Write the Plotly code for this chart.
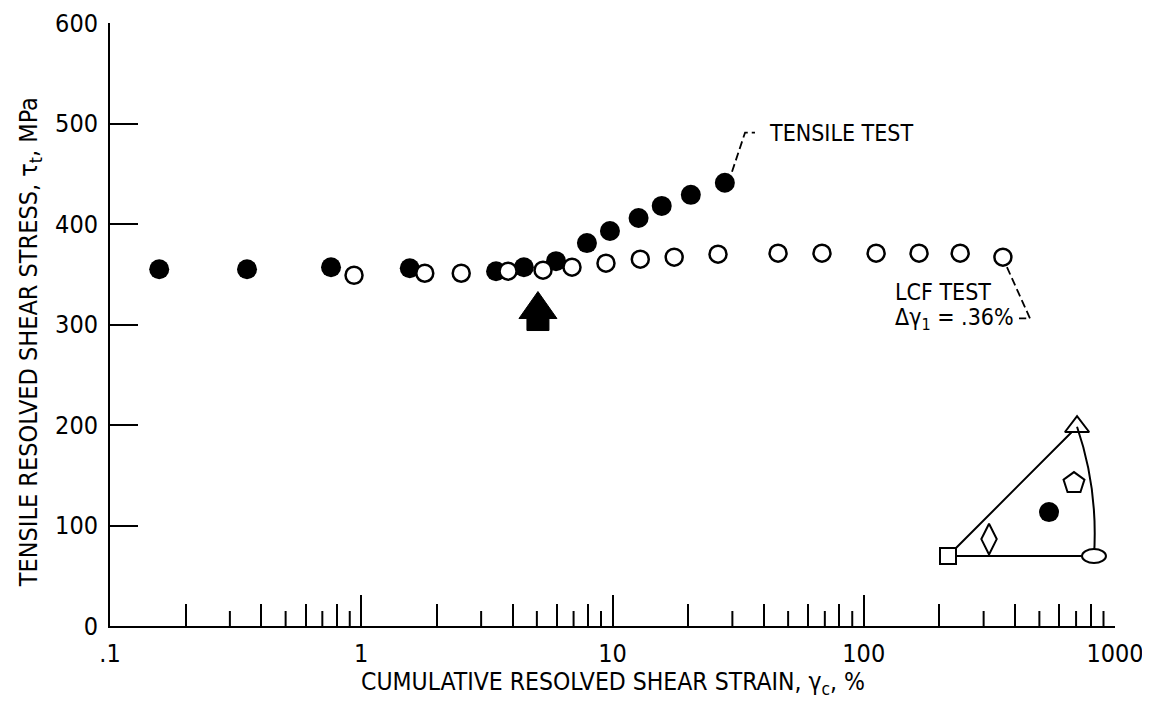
import plotly.graph_objects as go
import math

# ---------------- data ----------------
tensile_strain = [0.157, 0.351, 0.758, 1.56, 3.44, 4.44, 5.96, 7.91, 9.77, 12.7, 15.7, 20.5, 28.0]
tensile_stress = [355, 355, 357, 356, 353, 357, 363, 381, 393, 406, 418, 429, 441]

lcf_strain = [0.936, 1.79, 2.50, 3.84, 5.29, 6.90, 9.42, 12.9, 17.6, 26.3,
              45.6, 68.2, 112, 166, 242, 358]
lcf_stress = [349, 351, 351, 353, 354, 357, 361, 365, 367, 370,
              371, 371, 371, 371, 371, 367]

x_tickvals = [0.1, 1, 10, 100, 1000]
x_ticktext = [".1", "1", "10", "100", "1000"]
y_tickvals = [0, 100, 200, 300, 400, 500, 600]
decades = [0.1, 1, 10, 100]
even_minor = [2, 4, 6, 8]
odd_minor = [3, 5, 7, 9]

# marker arrow (onset) position
arrow_strain = 5.05
arrow_stress = 294

# leader lines
tensile_leader_x = [29.9, 33.7, 36.9]
tensile_leader_y = [452, 491, 491]
lcf_leader_x = [371.5, 459, 415]
lcf_leader_y = [357, 306, 306]

# annotation anchors
tensile_label = (41.2, 491)
lcf_label = (130.6, 332)
lcf_sub_label = (130.6, 305)

# inset (stereographic triangle) in local units
inset_sq = (0.0, 0.0)
inset_tri = (0.884, 0.886)
inset_ell = (1.0, 0.0)
inset_arc_ctrl = (1.03, 0.46)
inset_circle = (0.692, 0.301)
inset_house = (0.863, 0.50)
inset_diamond = (0.281, 0.116)

FONT = "Liberation Sans Narrow, DejaVu Sans Condensed, Arial Narrow, sans-serif"

fig = go.Figure()

fig.add_trace(go.Scatter(x=tensile_strain, y=tensile_stress, mode="markers",
                         marker=dict(symbol="circle", size=20, color="black",
                                     line=dict(width=0)),
                         showlegend=False))
fig.add_trace(go.Scatter(x=lcf_strain, y=lcf_stress, mode="markers",
                         marker=dict(symbol="circle", size=17, color="white",
                                     line=dict(width=2.5, color="black")),
                         showlegend=False))
fig.add_trace(go.Scatter(x=tensile_leader_x, y=tensile_leader_y, mode="lines",
                         line=dict(color="black", width=1.8, dash="8px,4px"),
                         showlegend=False))
fig.add_trace(go.Scatter(x=lcf_leader_x, y=lcf_leader_y, mode="lines",
                         line=dict(color="black", width=1.8, dash="8px,4px"),
                         showlegend=False))

# inset lines
fig.add_trace(go.Scatter(x=[inset_tri[0], inset_sq[0], inset_ell[0]],
                         y=[inset_tri[1], inset_sq[1], inset_ell[1]],
                         mode="lines", line=dict(color="black", width=2),
                         xaxis="x2", yaxis="y2", showlegend=False))
fig.add_trace(go.Scatter(x=[inset_sq[0]], y=[inset_sq[1]], mode="markers",
                         marker=dict(symbol="square", size=16, color="white",
                                     line=dict(width=2, color="black")),
                         xaxis="x2", yaxis="y2", showlegend=False))
fig.add_trace(go.Scatter(x=[inset_tri[0]], y=[inset_tri[1]], mode="markers",
                         marker=dict(symbol="triangle-up", size=21, color="white",
                                     line=dict(width=2, color="black")),
                         xaxis="x2", yaxis="y2", showlegend=False))
fig.add_trace(go.Scatter(x=[inset_house[0]], y=[inset_house[1]], mode="markers",
                         marker=dict(symbol="pentagon", size=22, color="white",
                                     line=dict(width=2, color="black")),
                         xaxis="x2", yaxis="y2", showlegend=False))
fig.add_trace(go.Scatter(x=[inset_diamond[0]], y=[inset_diamond[1]], mode="markers",
                         marker=dict(symbol="diamond-tall", size=22, color="white",
                                     line=dict(width=2, color="black")),
                         xaxis="x2", yaxis="y2", showlegend=False))
fig.add_trace(go.Scatter(x=[inset_circle[0]], y=[inset_circle[1]], mode="markers",
                         marker=dict(symbol="circle", size=20, color="black"),
                         xaxis="x2", yaxis="y2", showlegend=False))

shapes = []
# odd minor ticks (shorter) -- shape x values given as data values
for d in decades:
    for m in odd_minor:
        shapes.append(dict(type="line", xref="x", yref="y", x0=m * d, x1=m * d,
                           ysizemode="pixel", yanchor=0, y0=0, y1=15,
                           line=dict(color="black", width=2)))
# block arrow
shapes.append(dict(type="path", xref="x", yref="y", xsizemode="pixel", ysizemode="pixel",
                   xanchor=arrow_strain, yanchor=arrow_stress,
                   path="M -11 0 L 11 0 L 11 12 L 19 12 L 0 39 L -19 12 L -11 12 Z",
                   fillcolor="black", line=dict(color="black", width=1)))
# inset arc
shapes.append(dict(type="path", xref="x2", yref="y2",
                   path=f"M {inset_tri[0]} {inset_tri[1]} Q {inset_arc_ctrl[0]} {inset_arc_ctrl[1]} {inset_ell[0]} {inset_ell[1]}",
                   line=dict(color="black", width=2)))
# inset ellipse marker
shapes.append(dict(type="circle", xref="x2", yref="y2", xsizemode="pixel", ysizemode="pixel",
                   xanchor=inset_ell[0], yanchor=inset_ell[1], x0=-12, x1=12, y0=-7, y1=7,
                   fillcolor="white", line=dict(color="black", width=2)))

annotations = [
    dict(x=math.log10(tensile_label[0]), y=tensile_label[1], xref="x", yref="y",
         text="TENSILE TEST", showarrow=False, xanchor="left", yanchor="middle",
         font=dict(family=FONT, size=23, color="black")),
    dict(x=math.log10(lcf_label[0]), y=lcf_label[1], xref="x", yref="y", text="LCF TEST",
         showarrow=False, xanchor="left", yanchor="middle",
         font=dict(family=FONT, size=23, color="black")),
    dict(x=math.log10(lcf_sub_label[0]), y=lcf_sub_label[1], xref="x", yref="y",
         text="Δγ<sub>1</sub> = .36%",
         showarrow=False, xanchor="left", yanchor="middle",
         font=dict(family=FONT, size=23, color="black")),
    dict(x=0.5, y=-0.095, xref="paper", yref="paper",
         text="CUMULATIVE RESOLVED SHEAR STRAIN, γ<sub>c</sub>, %",
         showarrow=False, xanchor="center", yanchor="middle",
         font=dict(family=FONT, size=24.5, color="black")),
    dict(x=-0.08, y=0.47, xref="paper", yref="paper",
         text="TENSILE RESOLVED SHEAR STRESS, τ<sub>t</sub>, MPa", textangle=-90,
         showarrow=False, xanchor="center", yanchor="middle",
         font=dict(family=FONT, size=25, color="black")),
]

fig.update_layout(
    width=1142, height=696,
    margin=dict(l=102, r=35, t=15, b=78),
    paper_bgcolor="white", plot_bgcolor="white",
    showlegend=False,
    font=dict(family=FONT, size=25, color="black"),
    xaxis=dict(type="log", range=[-1, 3], showgrid=False, zeroline=False,
               automargin=False,
               showline=True, linecolor="black", linewidth=2,
               ticks="inside", ticklen=31, tickwidth=2, tickcolor="black",
               tickvals=x_tickvals, ticktext=x_ticktext, ticklabelstandoff=4,
               minor=dict(ticks="inside", ticklen=22, tickwidth=2, tickcolor="black",
                          tickvals=[m * d for d in decades for m in even_minor],
                          showgrid=False),
               tickfont=dict(family=FONT, size=25)),
    yaxis=dict(range=[0, 600], showgrid=False, zeroline=False,
               automargin=False,
               showline=True, linecolor="black", linewidth=2,
               ticks="inside", ticklen=28, tickwidth=2, tickcolor="black",
               tickvals=y_tickvals, ticklabelstandoff=5,
               tickfont=dict(family=FONT, size=25)),
    xaxis2=dict(domain=[0.816, 1.0], range=[-0.123, 1.144], visible=False,
                anchor="y2"),
    yaxis2=dict(domain=[0.0846, 0.358], range=[-0.130, 1.0], visible=False,
                anchor="x2"),
    shapes=shapes,
    annotations=annotations,
)

fig.write_html("out.html")
